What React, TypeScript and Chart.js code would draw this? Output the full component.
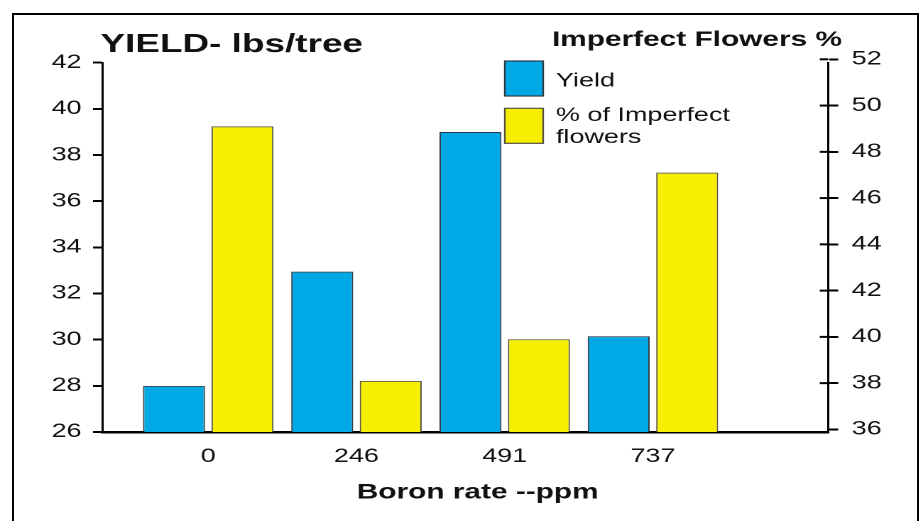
import React, { useEffect, useRef } from "react";
import { Chart, registerables } from "chart.js";

Chart.register(...registerables);

// ---- data ----
const CATEGORIES = ["0", "246", "491", "737"];
const YIELD = [28.0, 32.95, 39.0, 30.15];
const IMPERFECT = [49.1, 38.1, 39.9, 47.1];
const LEFT_TICKS = [26, 28, 30, 32, 34, 36, 38, 40, 42];
const RIGHT_TICKS = [36, 38, 40, 42, 44, 46, 48, 50, 52];
const SERIES_LABELS = ["Yield", "% of Imperfect flowers"];
const LEGEND_LINES = [["Yield"], ["% of Imperfect", "flowers"]];
const LEFT_TITLE = "YIELD- lbs/tree";
const RIGHT_TITLE = "Imperfect Flowers %";
const X_TITLE = "Boron rate --ppm";

// ---- style ----
const BLUE = "#00A8E6";
const YELLOW = "#F6F000";
const FONT = '"Liberation Sans", Arial, sans-serif';
const CANVAS_W = 650;
const CANVAS_H = 521;
const STRETCH = 923 / CANVAS_W;

const overlayPlugin = {
  id: "overlay",
  afterDraw(chart: any) {
    const ctx = chart.ctx;
    ctx.save();
    ctx.fillStyle = "#111";
    ctx.textAlign = "left";
    ctx.textBaseline = "alphabetic";
    ctx.font = `bold 26px ${FONT}`;
    ctx.fillText(LEFT_TITLE, 70.7, 52);
    ctx.font = `bold 21px ${FONT}`;
    ctx.fillText(RIGHT_TITLE, 388.7, 46);
    ctx.fillText(X_TITLE, 251.2, 498.5);

    // inner half of right-axis ticks
    const y1 = chart.scales.y1;
    ctx.strokeStyle = "#000";
    ctx.lineWidth = 2;
    y1.ticks.forEach((t: any) => {
      if (t.value === RIGHT_TICKS[0]) return;
      const py = y1.getPixelForValue(t.value);
      ctx.beginPath();
      ctx.moveTo(y1.left - 6, py);
      ctx.lineTo(y1.left, py);
      ctx.stroke();
    });

    // legend
    const items = [
      { boxY: 61, textY: [86.7] },
      { boxY: 108.3, textY: [121, 143] },
    ];
    chart.data.datasets.forEach((ds: any, i: number) => {
      const it = items[i];
      ctx.fillStyle = ds.backgroundColor;
      ctx.fillRect(355.5, it.boxY, 27, 35);
      ctx.strokeStyle = ds.borderColor;
      ctx.lineWidth = 1.2;
      ctx.strokeRect(355.5, it.boxY, 27, 35);
      ctx.fillStyle = "#111";
      ctx.font = `19px ${FONT}`;
      LEGEND_LINES[i].forEach((line, j) => {
        ctx.fillText(line, 391.5, it.textY[j]);
      });
    });
    ctx.restore();
  },
};

export default function App() {
  const ref = useRef<HTMLCanvasElement | null>(null);

  useEffect(() => {
    if (!ref.current) return;
    const chart = new Chart(ref.current, {
      type: "bar",
      data: {
        datasets: [
          {
            label: SERIES_LABELS[0],
            data: YIELD.map((v, i) => ({ x: i, y: v })),
            yAxisID: "y",
            backgroundColor: BLUE,
            borderColor: "#2b3a44",
            borderWidth: 1,
          },
          {
            label: SERIES_LABELS[1],
            data: IMPERFECT.map((v, i) => ({ x: i, y: v })),
            yAxisID: "y1",
            backgroundColor: YELLOW,
            borderColor: "#555040",
            borderWidth: 1,
          },
        ],
      },
      options: {
        responsive: false,
        animation: false,
        devicePixelRatio: 2,
        categoryPercentage: 0.924,
        barPercentage: 0.905,
        layout: { padding: { top: 62.7, left: 0, right: 0, bottom: 0 } },
        plugins: {
          legend: { display: false },
          tooltip: { enabled: false },
          title: { display: false },
        },
        scales: {
          x: {
            type: "linear",
            offset: false,
            min: -0.715,
            max: 4.183,
            afterBuildTicks: (s: any) => {
              s.ticks = CATEGORIES.map((_, i) => ({ value: i }));
            },
            afterFit: (s: any) => {
              s.height = CANVAS_H - 432;
            },
            ticks: {
              autoSkip: false,
              maxRotation: 0,
              padding: 13.6,
              color: "#111",
              font: { family: FONT, size: 19 },
              callback: (v: any) => CATEGORIES[v] ?? "",
            },
            grid: { display: true, offset: false, drawOnChartArea: false, drawTicks: false },
            border: { display: true, color: "#000", width: 2.5 },
          },
          y: {
            position: "left",
            min: 26,
            max: 42,
            afterBuildTicks: (s: any) => {
              s.ticks = LEFT_TICKS.map((v) => ({ value: v }));
            },
            afterFit: (s: any) => {
              s.width = 72;
            },
            ticks: {
              padding: 8,
              color: "#111",
              font: { family: FONT, size: 19 },
            },
            grid: {
              drawOnChartArea: false,
              tickLength: 6.5,
              tickWidth: 2,
              tickColor: "#000",
              color: "#000",
            },
            border: { display: true, color: "#000", width: 1.5 },
          },
          y1: {
            position: "right",
            min: 35.888,
            max: 51.853,
            afterBuildTicks: (s: any) => {
              s.ticks = RIGHT_TICKS.map((v) => ({ value: v }));
            },
            afterFit: (s: any) => {
              s.width = CANVAS_W - 583.3;
            },
            ticks: {
              padding: 9.5,
              color: "#111",
              font: { family: FONT, size: 19 },
            },
            grid: {
              drawOnChartArea: false,
              tickLength: 7,
              tickWidth: 2,
              tickColor: "#000",
              color: "#000",
            },
            border: { display: true, color: "#000", width: 1.5 },
          },
        },
      } as any,
      plugins: [overlayPlugin],
    });
    return () => chart.destroy();
  }, []);

  return (
    <div
      style={{
        position: "fixed",
        left: 0,
        top: 0,
        width: 923,
        height: 521,
        overflow: "hidden",
        background: "#fff",
      }}
    >
      <div
        style={{
          position: "absolute",
          left: 0,
          top: 0,
          width: CANVAS_W,
          height: CANVAS_H,
          transform: `scaleX(${STRETCH})`,
          transformOrigin: "0 0",
        }}
      >
        <canvas
          ref={ref}
          width={CANVAS_W}
          height={CANVAS_H}
          style={{ width: CANVAS_W, height: CANVAS_H, display: "block" }}
        />
      </div>
      <div
        style={{
          position: "absolute",
          left: 12,
          top: 13,
          width: 903,
          height: 600,
          border: "2px solid #000",
          pointerEvents: "none",
        }}
      />
    </div>
  );
}
